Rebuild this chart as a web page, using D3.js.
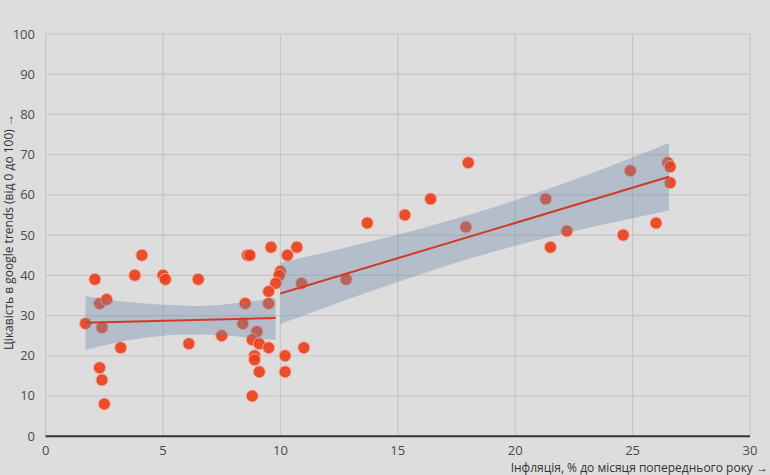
<!DOCTYPE html>
<html>
<head>
<meta charset="utf-8">
<script src="https://cdn.jsdelivr.net/npm/d3@7"></script>
<style>
html,body{margin:0;padding:0;background:#dddddd;}
svg{display:block;}
text{font-family:"Open Sans","Noto Sans",sans-serif;}
</style>
</head>
<body>
<svg id="chart" width="770" height="475"></svg>
<script>
// Inflation (% y/y) and Google Trends interest (0–100)
const inflation = [1.7,2.1,2.3,2.6,2.4,2.3,2.4,2.5,3.2,3.8,4.1,5.0,5.1,6.5,6.1,7.5,8.6,8.7,9.6,10.3,10.7,10.0,9.95,9.8,9.5,9.5,8.5,8.4,9.0,8.8,9.1,9.5,8.9,8.9,9.1,8.8,10.2,10.2,11.0,10.9,12.8,13.7,15.3,16.4,18.0,17.9,21.3,21.5,22.2,24.6,24.9,26.0,26.5,26.6,26.6];
const interest  = [28,39,33,34,27,17,14,8,22,40,45,40,39,39,23,25,45,45,47,45,47,41,40,38,36,33,33,28,26,24,23,22,20,19,16,10,20,16,22,38,39,53,55,59,68,52,59,47,51,50,66,53,68,67,63];

// Fitted trend lines
const fitLeftX  = [1.7, 9.8];
const fitLeftY  = [28.2, 29.4];
const fitRightX = [10.0, 26.55];
const fitRightY = [35.5, 64.5];

// Confidence bands
const bandLeftX  = [1.7, 3, 4.5, 6, 7.5, 9.8];
const bandLeftLo = [21.4, 23.4, 24.8, 25.4, 25.2, 23.9];
const bandLeftHi = [34.8, 33.6, 32.8, 32.3, 32.5, 34.3];
const bandRightX  = [10.0, 12, 14, 16, 18, 20, 22, 24, 26.55];
const bandRightLo = [27.9, 32.2, 36.4, 40.4, 44.1, 47.4, 50.3, 53.0, 56.1];
const bandRightHi = [43.1, 45.8, 48.6, 51.6, 54.9, 58.6, 62.7, 67.0, 72.9];

const xTicks = [0,5,10,15,20,25,30];
const yTicks = [0,10,20,30,40,50,60,70,80,90,100];
const xTitle = "Інфляція, % до місяця попереднього року →";
const yTitle = "Цікавість в google trends (від 0 до 100) →";

const svg = d3.select("#chart");
const W = 770, H = 475;
svg.append("rect").attr("width", W).attr("height", H).attr("fill", "#dddddd");

const x = d3.scaleLinear().domain([0, 30]).range([45.6, 750]);
const y = d3.scaleLinear().domain([0, 100]).range([436.2, 34]);

// grid
svg.append("g").selectAll("line").data(xTicks).join("line")
  .attr("x1", d => x(d)).attr("x2", d => x(d))
  .attr("y1", y(100)).attr("y2", y(0))
  .attr("stroke", "#c6c6c6").attr("stroke-width", 1.2);
svg.append("g").selectAll("line").data(yTicks).join("line")
  .attr("x1", x(0)).attr("x2", x(30))
  .attr("y1", d => y(d)).attr("y2", d => y(d))
  .attr("stroke", "#c6c6c6").attr("stroke-width", 1.2);

// points
const pts = inflation.map((v, i) => ({x: v, y: interest[i]}));
svg.append("g").selectAll("circle").data(pts).join("circle")
  .attr("cx", d => x(d.x)).attr("cy", d => y(d.y)).attr("r", 6)
  .attr("fill", "#e9401c").attr("fill-opacity", 0.92)
  .attr("stroke", "#f6a896").attr("stroke-width", 1);

// bands
function band(xs, lo, hi) {
  const data = xs.map((v, i) => ({x: v, lo: lo[i], hi: hi[i]}));
  return d3.area().x(d => x(d.x)).y0(d => y(d.lo)).y1(d => y(d.hi)).curve(d3.curveBasis)(data);
}
svg.append("path").attr("d", band(bandLeftX, bandLeftLo, bandLeftHi))
  .attr("fill", "#6a88a8").attr("fill-opacity", 0.36);
svg.append("path").attr("d", band(bandRightX, bandRightLo, bandRightHi))
  .attr("fill", "#6a88a8").attr("fill-opacity", 0.36);

// fit lines
const lineGen = d3.line().x(d => x(d[0])).y(d => y(d[1]));
svg.append("path").attr("d", lineGen(fitLeftX.map((v, i) => [v, fitLeftY[i]])))
  .attr("fill", "none").attr("stroke", "#d33a26").attr("stroke-width", 2);
svg.append("path").attr("d", lineGen(fitRightX.map((v, i) => [v, fitRightY[i]])))
  .attr("fill", "none").attr("stroke", "#d33a26").attr("stroke-width", 2);

// x axis baseline
svg.append("line").attr("x1", x(0)).attr("x2", x(30)).attr("y1", y(0)).attr("y2", y(0))
  .attr("stroke", "#333").attr("stroke-width", 2);

// tick labels
svg.append("g").selectAll("text").data(xTicks).join("text")
  .attr("x", d => x(d)).attr("y", 455).attr("text-anchor", "middle")
  .attr("font-size", 13).attr("fill", "#4a4a4a").text(d => d);
svg.append("g").selectAll("text").data(yTicks).join("text")
  .attr("x", 35).attr("y", d => y(d) + 4.5).attr("text-anchor", "end")
  .attr("font-size", 13).attr("fill", "#4a4a4a").text(d => d);

// titles
svg.append("text").attr("x", 768).attr("y", 472).attr("text-anchor", "end")
  .attr("font-size", 12).attr("fill", "#333").text(xTitle);
svg.append("text").attr("transform", "translate(13,114) rotate(-90)")
  .attr("text-anchor", "end").attr("font-size", 12).attr("fill", "#333").text(yTitle);
</script>
</body>
</html>
